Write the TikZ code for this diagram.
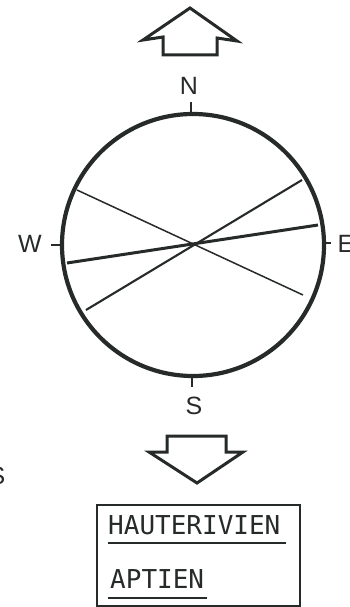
\documentclass[tikz,border=0pt]{standalone}
\usepackage{fontspec}
\setmainfont{Liberation Sans}
\newfontfamily\boxmono{DejaVu Sans Mono}
\definecolor{ink}{RGB}{38,42,40}
\begin{document}
\begin{tikzpicture}[x=1pt,y=-1pt,
  ring/.style={draw=ink, line width=4.2pt},
  tick/.style={draw=ink, line width=1.4pt},
  thinline/.style={draw=ink, line width=1.5pt},
  midline/.style={draw=ink, line width=2.1pt},
  thickline/.style={draw=ink, line width=3pt},
  bigarrow/.style={draw=ink, line width=3pt, line join=miter},
  dirlabel/.style={text=ink, inner sep=0pt, font=\fontsize{25}{25}\selectfont},
  boxtext/.style={text=ink, inner sep=0pt, anchor=west, font=\boxmono\fontsize{26}{26}\selectfont},
  uline/.style={draw=ink, line width=1.8pt},
  framebox/.style={draw=ink, line width=1.8pt}
]
\useasboundingbox (0,0) rectangle (350,607);

% top arrow
\draw[bigarrow] (190,8) -- (237,41) -- (217,38) -- (217,55) -- (163,55) -- (163,37) -- (143,40) -- cycle;

% circle
\coordinate (c) at (193,245);
\draw[ring] (c) circle (131);

% ticks
\coordinate (nt1) at (191,102); \coordinate (nt2) at (191,114);
\coordinate (st1) at (192,376); \coordinate (st2) at (192,387);
\coordinate (wt1) at (51,245);  \coordinate (wt2) at (63,245);
\coordinate (et1) at (323,243); \coordinate (et2) at (331,243);
\draw[tick] (nt1) -- (nt2);
\draw[tick] (st1) -- (st2);
\draw[tick] (wt1) -- (wt2);
\draw[tick] (et1) -- (et2);

% labels
\node[dirlabel] (N) at (189,86) {N};
\node[dirlabel] (S) at (194,406) {S};
\node[dirlabel] (W) at (30,244) {W};
\node[dirlabel] (E) at (346,244) {E};
\node[dirlabel] (S2) at (-3,476) {S};

% planes through the centre
\coordinate (a1) at (77,190);  \coordinate (a2) at (303,295);
\coordinate (b1) at (302,180); \coordinate (b2) at (86,310);
\coordinate (d1) at (318,225); \coordinate (d2) at (67,263);
\draw[thinline] (a1) -- (a2);
\draw[midline] (b1) -- (b2);
\draw[thickline] (d1) -- (d2);

% bottom arrow
\draw[bigarrow] (167,436) -- (226,436) -- (226,452) -- (243,452) -- (197,483) -- (149,452) -- (167,452) -- cycle;

% stratigraphic box
\draw[framebox] (97,505) rectangle (300,606);
\node[boxtext] (h) at (108,525) {HAUTERIVIEN};
\node[boxtext] (ap) at (110,579) {APTIEN};
\draw[uline] (108,543) -- (286,543);
\draw[uline] (108,598) -- (207,598);
\end{tikzpicture}
\end{document}
